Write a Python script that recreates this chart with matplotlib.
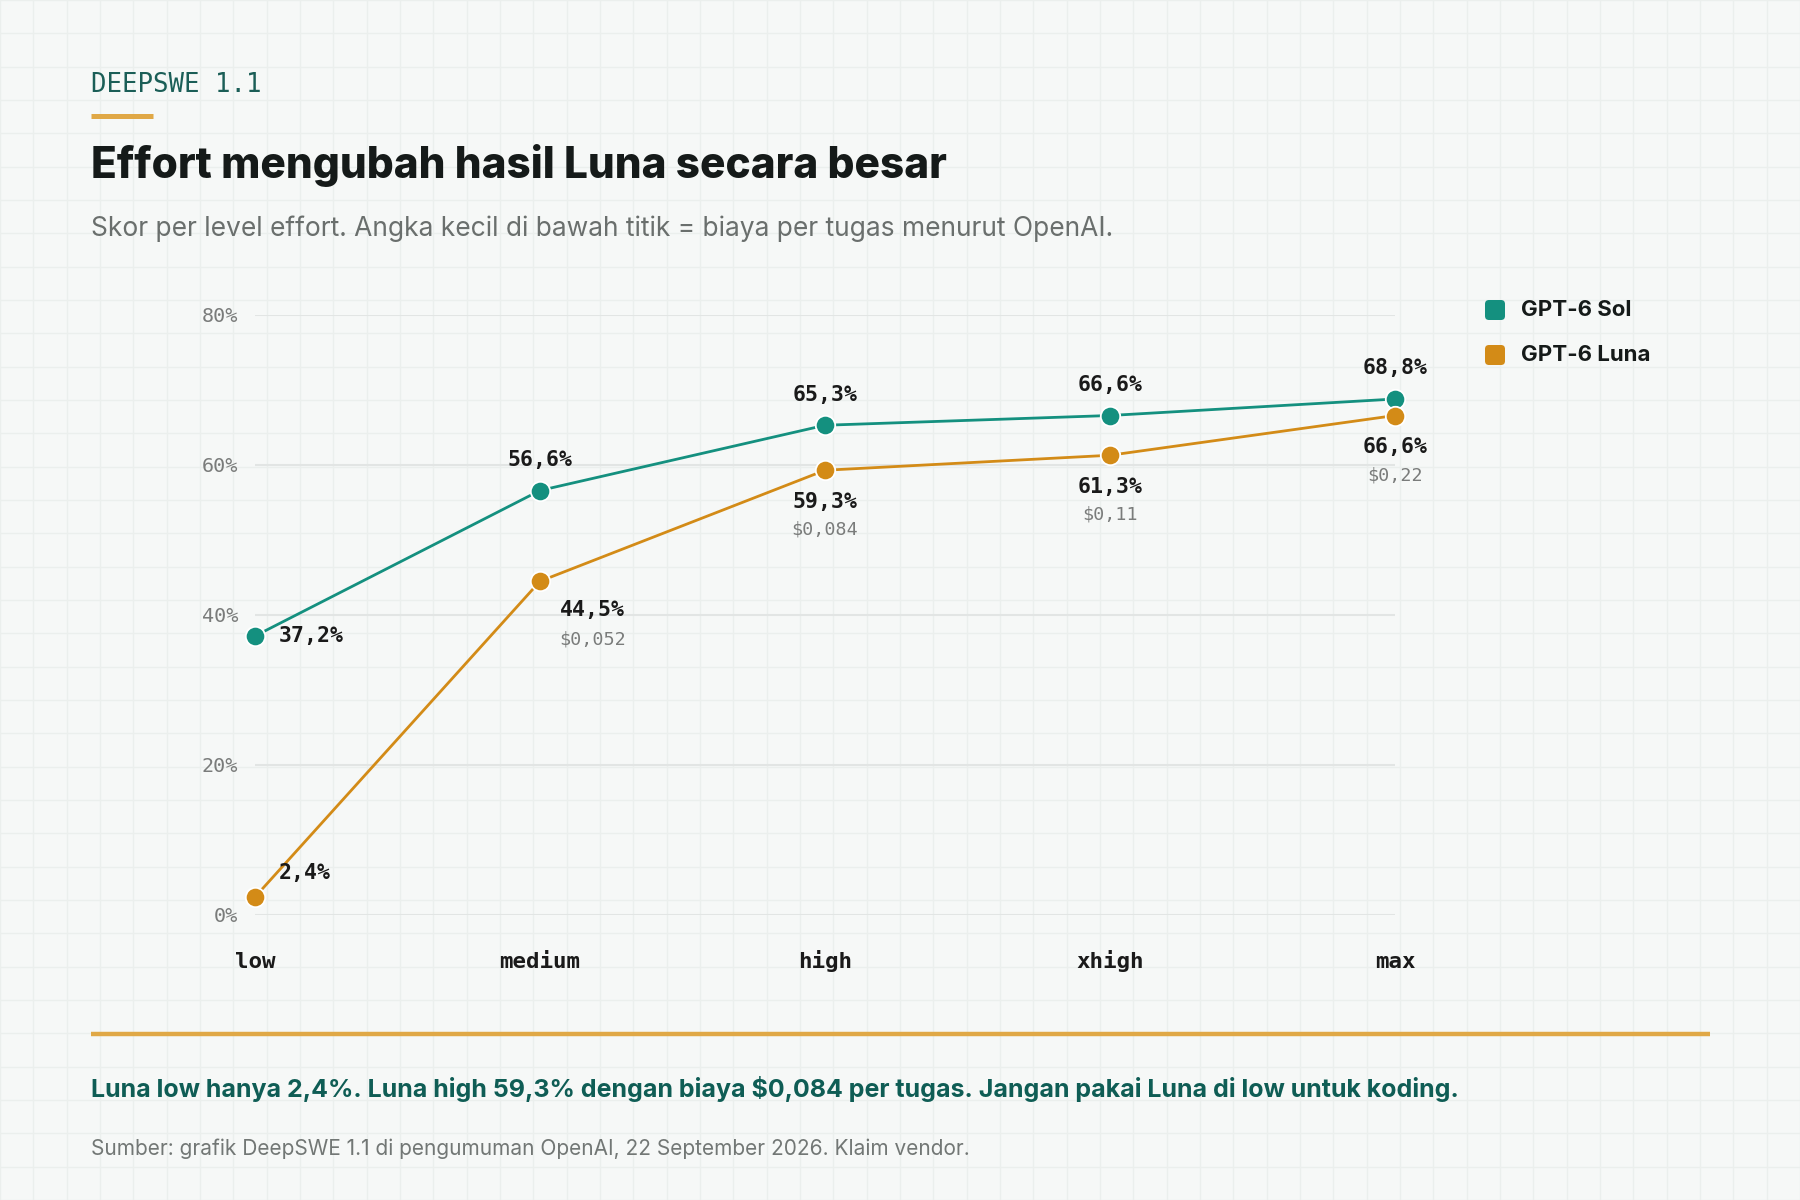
import matplotlib
matplotlib.use("Agg")
import matplotlib.pyplot as plt
from matplotlib.patches import FancyBboxPatch

# data
levels = ["low", "medium", "high", "xhigh", "max"]
sol = [37.2, 56.6, 65.3, 66.6, 68.8]
luna = [2.4, 44.5, 59.3, 61.3, 66.6]
luna_cost = [None, "$0,052", "$0,084", "$0,11", "$0,22"]
yticks = [0, 20, 40, 60, 80]

TEAL = "#14907f"
ORANGE = "#d38b17"
BG = "#f6f8f7"
SANS = ["Inter", "DejaVu Sans"]
MONO = ["DejaVu Sans Mono"]

W, H = 1800, 1200
fig = plt.figure(figsize=(18, 12), dpi=100, facecolor=BG)

# background paper grid
bg = fig.add_axes([0, 0, 1, 1], zorder=-5)
bg.set_xlim(0, W)
bg.set_ylim(H, 0)
bg.axis("off")
step = 1800 / 54
for i in range(55):
    bg.axvline(i * step, color="#ebefed", lw=1, zorder=1)
for i in range(37):
    bg.axhline(i * step, color="#ebefed", lw=1, zorder=1)
bg.plot([91, 153], [116, 116], color="#e0a846", lw=3.6, solid_capstyle="butt", zorder=3)
bg.plot([91, 1710], [1034, 1034], color="#e0a846", lw=3.2, solid_capstyle="butt", zorder=3)

def fy(y):
    return 1 - y / H

fig.text(91 / W, fy(85), "DEEPSWE 1.1", family=MONO, fontsize=18.5, color="#1b5e57",
         va="center", ha="left")
fig.text(91 / W, fy(178), "Effort mengubah hasil Luna secara besar", family=SANS,
         fontsize=30.5, fontweight=800, color="#151a19", va="baseline", ha="left")
fig.text(91 / W, fy(236), "Skor per level effort. Angka kecil di bawah titik = biaya per tugas menurut OpenAI.",
         family=SANS, fontsize=19, color="#6a6f6d", va="baseline", ha="left")
fig.text(91 / W, fy(1089),
         "Luna low hanya 2,4%. Luna high 59,3% dengan biaya $0,084 per tugas. Jangan pakai Luna di low untuk koding.",
         family=SANS, fontsize=18, fontweight="bold", color="#0f5d55", va="center", ha="left")
fig.text(91 / W, fy(1149), "Sumber: grafik DeepSWE 1.1 di pengumuman OpenAI, 22 September 2026. Klaim vendor.",
         family=SANS, fontsize=15, color="#727775", va="center", ha="left")

# chart
ax = fig.add_axes([255 / W, 1 - 915 / H, 1140 / W, 600 / H])
ax.set_facecolor("none")
x = list(range(len(levels)))
ax.set_xlim(0, len(levels) - 1)
ax.set_ylim(0, 80)
for s in ax.spines.values():
    s.set_visible(False)
ax.set_yticks(yticks)
ax.set_yticklabels([f"{v}%" for v in yticks], family=MONO, fontsize=14.5, color="#7a7c7b")
ax.set_xticks(x)
ax.set_xticklabels(levels, family=MONO, fontsize=16.2, fontweight="bold", color="#1a1a1a")
for t in ax.get_xticklabels():
    t.set_va("baseline")
ax.tick_params(axis="y", length=0, pad=12)
ax.tick_params(axis="x", length=0, pad=38)
ax.grid(axis="y", color="#e2e5e4", lw=1.5)
ax.set_axisbelow(True)

ax.plot(x, sol, color=TEAL, lw=2, marker="o", ms=14, mec="white", mew=1.3, clip_on=False, zorder=3)
ax.plot(x, luna, color=ORANGE, lw=2, marker="o", ms=14, mec="white", mew=1.3, clip_on=False, zorder=3)

lab = dict(family=MONO, fontsize=15.5, fontweight="bold", color="#1a1a1a", va="center",
           textcoords="offset points")
cst = dict(family=MONO, fontsize=13.2, color="#7a7c7b", va="center", textcoords="offset points")

for i, v in enumerate(sol):
    t = f"{v:.1f}%".replace(".", ",")
    if i == 0:
        ax.annotate(t, (i, v), xytext=(17, 0), ha="left", **lab)
    else:
        ax.annotate(t, (i, v), xytext=(0, 22), ha="center", **lab)

for i, v in enumerate(luna):
    t = f"{v:.1f}%".replace(".", ",")
    if i == 0:
        ax.annotate(t, (i, v), xytext=(17, 17), ha="left", **lab)
    elif i == 1:
        ax.annotate(t, (i, v), xytext=(14, -21), ha="left", **lab)
        ax.annotate(luna_cost[i], (i, v), xytext=(14, -42), ha="left", **cst)
    else:
        ax.annotate(t, (i, v), xytext=(0, -23), ha="center", **lab)
        ax.annotate(luna_cost[i], (i, v), xytext=(0, -43), ha="center", **cst)

# legend
for k, (name, c) in enumerate([("GPT-6 Sol", TEAL), ("GPT-6 Luna", ORANGE)]):
    yc = 310 + k * 45
    bg.add_patch(FancyBboxPatch((1485, yc - 10), 20, 20, boxstyle="round,pad=0,rounding_size=4",
                                fc=c, ec="none", zorder=5))
    fig.text(1521 / W, fy(yc), name, family=SANS, fontsize=16, fontweight="bold",
             color="#151a19", va="center", ha="left")

fig.savefig("out.png", dpi=100, facecolor=BG)
